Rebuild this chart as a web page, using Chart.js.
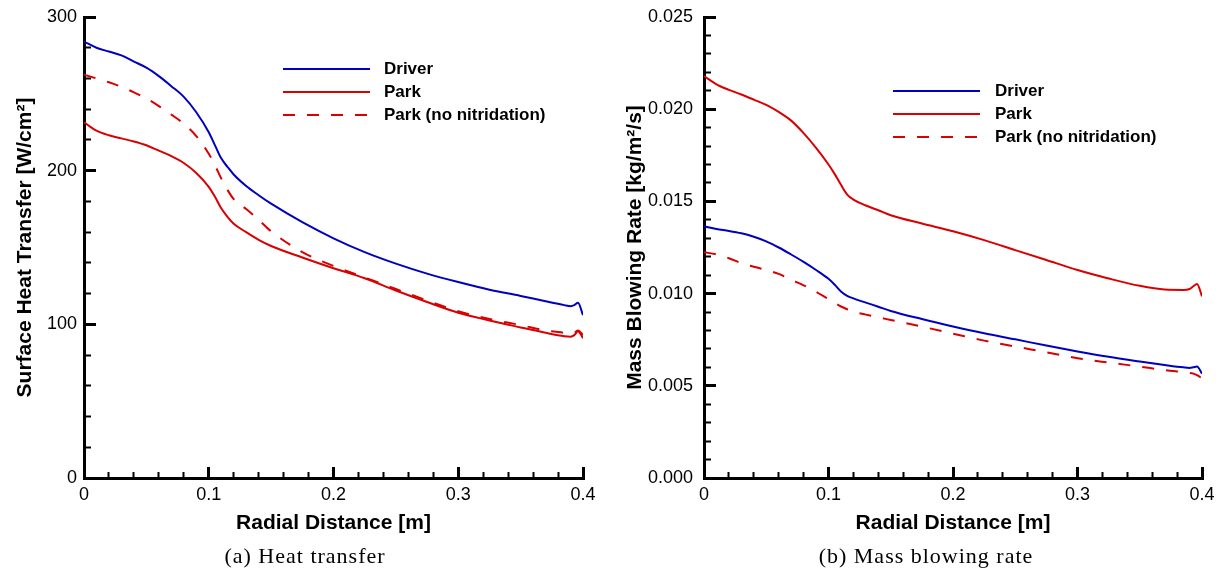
<!DOCTYPE html>
<html>
<head>
<meta charset="utf-8">
<script src="https://cdn.jsdelivr.net/npm/chart.js@4"></script>
<style>
  body { margin: 0; background: #fff; width: 1222px; height: 574px; position: relative; overflow: hidden; }
  .panel { position: absolute; top: 0; width: 611px; height: 574px; }
  .caption { position: absolute; top: 543px; font-family: "Liberation Serif", serif; font-size: 22px; letter-spacing: 1px; white-space: nowrap; transform: translateX(-50%); color: #000; }
</style>
</head>
<body>
<div class="panel" style="left:0"><canvas id="heatChart" width="611" height="574"></canvas></div>
<div class="panel" style="left:611px"><canvas id="blowChart" width="611" height="574"></canvas></div>
<div class="caption" style="left:305px">(a) Heat transfer</div>
<div class="caption" style="left:926px">(b) Mass blowing rate</div>
<script>
// radial stations (m), shared by every curve
const radial = [0, 0.01, 0.02, 0.03, 0.04, 0.05, 0.06, 0.07, 0.08, 0.09, 0.1, 0.105, 0.11, 0.115, 0.12, 0.13,
    0.14, 0.15, 0.175, 0.2, 0.225, 0.25, 0.275, 0.3, 0.325, 0.35, 0.37, 0.385, 0.39, 0.393, 0.396, 0.4];

// (a) surface heat transfer, W/cm2
const heatDriver = [284, 280, 277.5, 275, 271, 267, 261.5, 255, 248, 238, 225, 216.5, 208, 202.5, 197.5, 190,
    184, 178.5, 166.5, 156, 147, 139.5, 133, 127.5, 122.5, 118.5, 115, 112.5, 111.8, 112.5, 114, 106];
const heatPark = [231.5, 226, 223, 221, 219, 216.5, 213, 209.5, 205, 198.5, 189.5, 183, 175.5, 170, 165.5, 160,
    155, 151, 143.5, 136.5, 130, 122, 114.5, 107.5, 102.5, 98, 94.5, 92.3, 92, 93, 95.5, 91];
const heatParkNoNit = [262.5, 260, 257.5, 254.5, 251, 247, 242, 236.5, 230.5, 222.5, 211, 203.5, 195, 187.5, 181.5, 175,
    168, 160.5, 147, 138, 130.5, 123, 115.5, 108.5, 103.5, 99.5, 96, 94.5, 94, 94.5, 96, 93];

// (b) mass blowing rate, kg/m2/s
const blowDriver = [0.01365, 0.0135, 0.0134, 0.01327, 0.01308, 0.01283, 0.0125, 0.01212, 0.01172, 0.01128, 0.0108,
    0.01048, 0.01012, 0.00988, 0.00974, 0.00951, 0.00929, 0.00906, 0.00862, 0.00822, 0.00785, 0.00752, 0.00718,
    0.00686, 0.00657, 0.00632, 0.00613, 0.006, 0.00597, 0.006, 0.00604, 0.00566];
const blowPark = [0.0218, 0.02135, 0.02105, 0.0208, 0.02052, 0.02023, 0.01985, 0.01938, 0.0187, 0.0179, 0.017,
    0.01648, 0.0159, 0.01537, 0.0151, 0.01478, 0.01452, 0.01425, 0.0138, 0.01338, 0.0129, 0.01236, 0.01182,
    0.01128, 0.01082, 0.01042, 0.01022, 0.0102, 0.01025, 0.0104, 0.01052, 0.00985];
const blowParkNoNit = [0.01225, 0.01212, 0.01192, 0.01165, 0.01146, 0.01128, 0.01107, 0.01075, 0.01045, 0.0101, 0.0097,
    0.0095, 0.0093, 0.00915, 0.00902, 0.00886, 0.00871, 0.00857, 0.00821, 0.00783, 0.00745, 0.00713, 0.00682,
    0.0065, 0.00626, 0.00604, 0.00585, 0.00574, 0.0057, 0.00566, 0.00558, 0.0054];

const seriesLabels = ['Driver', 'Park', 'Park (no nitridation)'];

const BLUE = '#0000c0';
const RED = '#d80000';
const SANS = '"Liberation Sans", Arial, sans-serif';

function toPoints(values) {
    return values.map((v, i) => ({ x: radial[i], y: v }));
}

function makeDatasets(driver, park, parkNoNit) {
    const common = { borderWidth: 2, pointRadius: 0, fill: false, cubicInterpolationMode: 'monotone' };
    return [
        { ...common, label: seriesLabels[0], data: toPoints(driver), borderColor: BLUE },
        { ...common, label: seriesLabels[1], data: toPoints(park), borderColor: RED },
        { ...common, label: seriesLabels[2], data: toPoints(parkNoNit), borderColor: RED, borderDash: [12, 12] }
    ];
}

// legend drawn inside the plot, tecplot style
const lineLegend = {
    id: 'lineLegend',
    afterDraw(chart, args, opts) {
        const ctx = chart.ctx;
        ctx.save();
        ctx.font = 'bold 17px ' + SANS;
        ctx.textBaseline = 'middle';
        ctx.fillStyle = '#000';
        chart.data.datasets.forEach((ds, i) => {
            const y = opts.top + i * opts.rowGap;
            ctx.strokeStyle = ds.borderColor;
            ctx.lineWidth = ds.borderWidth;
            ctx.setLineDash(ds.borderDash || []);
            ctx.beginPath();
            ctx.moveTo(opts.left, y);
            ctx.lineTo(opts.left + opts.lineLength, y);
            ctx.stroke();
            ctx.setLineDash([]);
            ctx.fillText(ds.label, opts.textLeft, y);
        });
        ctx.restore();
    }
};

// fixed axis sizes, no extra label padding so the plot box lands where it should
function fixSize(w, h) {
    return s => {
        if (w !== null) s.width = w;
        if (h !== null) s.height = h;
        s.paddingTop = 0;
        s.paddingBottom = 0;
        s.paddingLeft = 0;
        s.paddingRight = 0;
    };
}

function makeChart(id, datasets, cfg) {
    const tickFont = { family: SANS, size: 18 };
    const titleFont = { family: SANS, size: 21, weight: 'bold' };
    return new Chart(document.getElementById(id), {
        type: 'line',
        data: { datasets: datasets },
        plugins: [lineLegend],
        options: {
            responsive: false,
            animation: false,
            layout: { padding: { top: 17, right: cfg.padRight, left: 0, bottom: 0 } },
            plugins: {
                legend: { display: false },
                tooltip: { enabled: false },
                lineLegend: cfg.legend
            },
            scales: {
                x: {
                    type: 'linear', position: 'bottom', weight: 1, min: 0, max: 0.4,
                    afterFit: fixSize(null, 96),
                    border: { color: '#000', width: 3 },
                    grid: { drawOnChartArea: false, tickLength: -11, tickWidth: 3, tickColor: '#000' },
                    ticks: {
                        stepSize: 0.1, padding: 17, color: '#000', font: tickFont, maxRotation: 0,
                        callback: v => v === 0 ? '0' : v.toFixed(1)
                    },
                    title: { display: true, text: 'Radial Distance [m]', color: '#000', font: titleFont, padding: { top: 0, bottom: 38 } }
                },
                xMinor: {
                    type: 'linear', position: 'bottom', weight: 0, min: 0, max: 0.4,
                    afterFit: fixSize(null, 0),
                    border: { display: false },
                    grid: { drawOnChartArea: false, tickLength: -6, tickWidth: 2, tickColor: '#000' },
                    ticks: { stepSize: 0.02, display: false }
                },
                y: {
                    type: 'linear', position: 'left', weight: 1, min: 0, max: cfg.yMax,
                    afterFit: fixSize(cfg.yWidth, null),
                    border: { color: '#000', width: 3 },
                    grid: { drawOnChartArea: false, tickLength: -12, tickWidth: 3, tickColor: '#000' },
                    ticks: { stepSize: cfg.yMajor, padding: cfg.yLabelPad, color: '#000', font: tickFont, callback: cfg.yFormat },
                    title: { display: true, text: cfg.yTitle, color: '#000', font: titleFont, padding: { top: cfg.yTitlePad, bottom: 0 } }
                },
                yMinor: {
                    type: 'linear', position: 'left', weight: 0, min: 0, max: cfg.yMax,
                    afterFit: fixSize(0, null),
                    border: { display: false },
                    grid: { drawOnChartArea: false, tickLength: -7, tickWidth: 2, tickColor: '#000' },
                    ticks: { stepSize: cfg.yMinor, display: false }
                }
            }
        }
    });
}

makeChart('heatChart', makeDatasets(heatDriver, heatPark, heatParkNoNit), {
    yMax: 300, yMajor: 100, yMinor: 20, yWidth: 84, padRight: 28,
    yLabelPad: 19, yTitlePad: 13,
    yTitle: 'Surface Heat Transfer [W/cm\u00b2]',
    yFormat: v => String(v),
    legend: { left: 283, lineLength: 87, textLeft: 384, top: 69, rowGap: 23 }
});

makeChart('blowChart', makeDatasets(blowDriver, blowPark, blowParkNoNit), {
    yMax: 0.025, yMajor: 0.005, yMinor: 0.001, yWidth: 93, padRight: 20,
    yLabelPad: 23, yTitlePad: 12,
    yTitle: 'Mass Blowing Rate [kg/m\u00b2/s]',
    yFormat: v => v.toFixed(3),
    legend: { left: 282, lineLength: 87, textLeft: 384, top: 91, rowGap: 23 }
});
</script>
</body>
</html>
